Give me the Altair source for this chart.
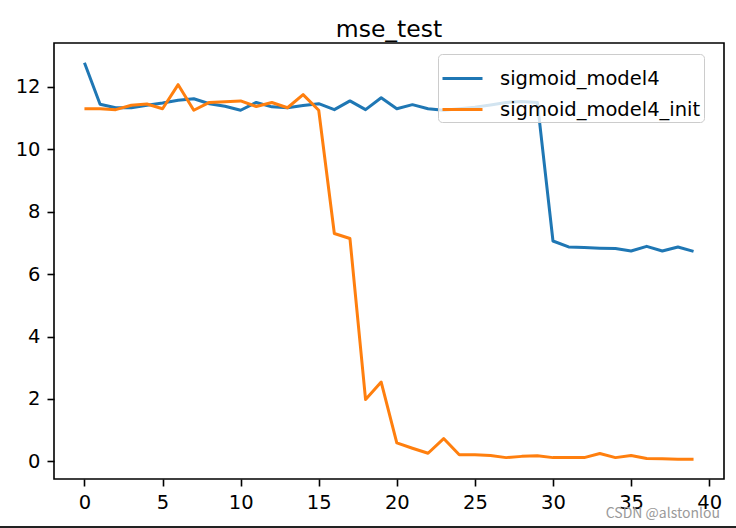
import altair as alt
import pandas as pd

epochs = list(range(40))
sigmoid_model4 = [12.77, 11.44, 11.33, 11.33, 11.41, 11.48, 11.57, 11.62, 11.46, 11.38,
                  11.25, 11.50, 11.36, 11.33, 11.40, 11.46, 11.27, 11.55, 11.27, 11.65,
                  11.30, 11.43, 11.30, 11.25, 11.30, 11.35, 11.42, 11.50, 11.53, 11.50,
                  7.06, 6.87, 6.85, 6.83, 6.82, 6.74, 6.89, 6.74, 6.87, 6.73]
sigmoid_model4_init = [11.30, 11.30, 11.27, 11.41, 11.45, 11.30, 12.07, 11.25, 11.50, 11.52,
                       11.55, 11.37, 11.50, 11.33, 11.75, 11.25, 7.30, 7.14, 1.98, 2.54,
                       0.59, 0.42, 0.26, 0.73, 0.21, 0.21, 0.19, 0.12, 0.16, 0.18,
                       0.12, 0.12, 0.12, 0.25, 0.12, 0.19, 0.09, 0.08, 0.07, 0.07]
series_names = ["sigmoid_model4", "sigmoid_model4_init"]
series_colors = ["#1f77b4", "#ff7f0e"]
x_ticks = [0, 5, 10, 15, 20, 25, 30, 35, 40]
y_ticks = [0, 2, 4, 6, 8, 10, 12]
watermark = ["CSDN @alstonlou"]

df = pd.DataFrame({
    "epoch": epochs + epochs,
    "mse": sigmoid_model4 + sigmoid_model4_init,
    "series": [series_names[0]] * len(epochs) + [series_names[1]] * len(epochs),
})

axis_common = dict(
    title=None, grid=False, domain=False,
    tickColor="black", tickWidth=1.6, tickSize=7,
    labelPadding=7, labelFont="DejaVu Sans", labelFontSize=19.5,
    labelColor="black",
)

lines = alt.Chart(df).mark_line(strokeWidth=3, strokeJoin="round").encode(
    x=alt.X("epoch:Q",
            scale=alt.Scale(domain=[-1.95, 40.95], nice=False, zero=False),
            axis=alt.Axis(values=x_ticks, **axis_common)),
    y=alt.Y("mse:Q",
            scale=alt.Scale(domain=[-0.565, 13.405], nice=False, zero=False),
            axis=alt.Axis(values=y_ticks, **axis_common)),
    color=alt.Color("series:N",
                    scale=alt.Scale(domain=series_names, range=series_colors),
                    legend=alt.Legend(
                        title=None, orient="none", legendX=384, legendY=11,
                        symbolType="stroke", symbolSize=1600, symbolStrokeWidth=3,
                        labelFontSize=19.5, labelFont="DejaVu Sans", labelColor="black",
                        labelLimit=500,
                        fillColor="rgba(255,255,255,0.8)", strokeColor="#cccccc",
                        cornerRadius=4, padding=3, labelOffset=16, rowPadding=-2,
                    )),
)

wm = alt.Chart(pd.DataFrame({"t": watermark})).mark_text(
    align="right", baseline="alphabetic", fontSize=14, color="#9a9a9a",
    font="Noto Sans CJK SC",
).encode(text="t:N", x=alt.value(666), y=alt.value(475))

frame_line = alt.Chart(pd.DataFrame({"t": watermark})).mark_rule(
    color="#222222", strokeWidth=2
).encode(x=alt.value(-54), x2=alt.value(682), y=alt.value(484))

chart = alt.layer(lines, wm, frame_line).properties(
    width=670, height=436,
    title=alt.Title("mse_test", fontSize=23.5, font="DejaVu Sans",
                    fontWeight="normal", color="black", offset=2, anchor="middle"),
    autosize=alt.AutoSizeParams(type="none"),
    padding={"left": 54, "top": 43, "right": 12, "bottom": 49},
).configure(background="white").configure_view(stroke="black", strokeWidth=1.6)

chart.save("out.html", embed_options={"renderer": "svg", "actions": False})
